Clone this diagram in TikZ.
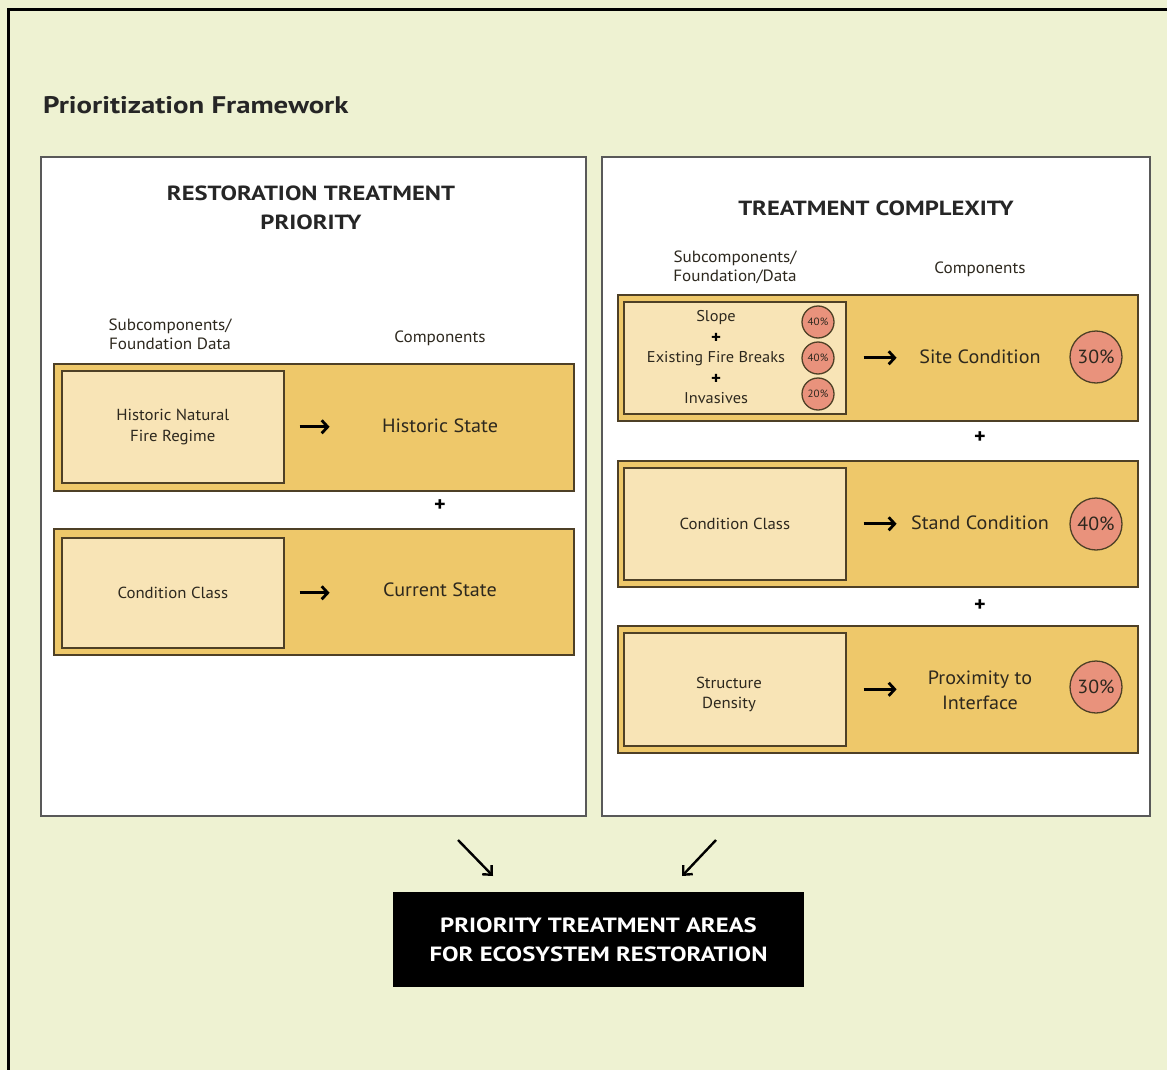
\documentclass[tikz,border=0pt]{standalone}
\usepackage{fontspec}
\setmainfont{PT Sans}[FakeStretch=1.05]
\newfontfamily\hb{PT Sans}[FakeStretch=1.2]
\usetikzlibrary{arrows.meta}
\definecolor{bg}{RGB}{238,242,210}
\definecolor{orng}{RGB}{238,200,106}
\definecolor{lite}{RGB}{248,228,182}
\definecolor{pinkc}{RGB}{233,146,124}
\definecolor{edgec}{RGB}{78,64,38}
\definecolor{txt}{RGB}{45,40,30}
\begin{document}
\begin{tikzpicture}[x=1pt,y=-1pt,
  panel/.style={draw=black!65, line width=1.6pt, fill=white, anchor=north west, inner sep=0pt, minimum width=545pt, minimum height=659pt},
  obox/.style={draw=edgec, line width=1.6pt, fill=orng, anchor=north west, inner sep=0pt, minimum width=520pt},
  ibox/.style={draw=edgec, line width=1.6pt, fill=lite, anchor=north west, inner sep=0pt, minimum width=222pt, align=center, text=txt, font=\fontsize{16}{21}\selectfont},
  ptitle/.style={align=center, text=black!85, font=\hb\bfseries\fontsize{20.5}{29}\selectfont},
  small/.style={align=center, text=txt, font=\fontsize{16.3}{19}\selectfont},
  comp/.style={align=center, text=txt, font=\fontsize{19.2}{25}\selectfont},
  sub/.style={align=center, text=txt, font=\fontsize{15.6}{16}\selectfont, inner sep=0pt},
  plus/.style={text=black, font=\bfseries\fontsize{21}{21}\selectfont, inner sep=0pt},
  pct/.style={circle, draw=edgec, line width=1.3pt, fill=pinkc, inner sep=0pt, text=txt},
  arr/.style={line width=2.8pt, -{Straight Barb[length=6pt,width=13pt,line width=2.8pt]}},
  darr/.style={line width=2.4pt, -{Straight Barb[length=7pt,width=13pt,line width=2.4pt]}}
]
\useasboundingbox (0,0) rectangle (1167,1070);
\fill[bg] (0,0) rectangle (1167,1070);
\draw[line width=3pt] (8,1070) -- (8,9.5) -- (1167,9.5);

\node[anchor=west, text=black!85, font=\hb\bfseries\fontsize{24}{28}\selectfont, inner sep=0pt] (mt) at (43,105) {Prioritization Framework};

% panels
\node[panel] (lp) at (40,156) {};
\node[panel, minimum width=548pt] (rp) at (601,156) {};

% ---------- left panel
\node[ptitle] (lt) at (311,208) {RESTORATION TREATMENT\\PRIORITY};
\node[small] (lsub) at (170,334) {Subcomponents/\\Foundation Data};
\node[small] (lcomp) at (440,338) {Components};

\node[obox, minimum height=127pt] (ob1) at (53,363) {};
\node[ibox, minimum height=112pt] (ib1) at (61,370) {Historic Natural\\Fire Regime};
\node[comp] (c1) at (440,426) {Historic State};
\draw[arr] ([xshift=15pt]ib1.east) -- ([xshift=45pt]ib1.east);

\node[plus] (p1) at (440,506) {+};

\node[obox, minimum height=126pt] (ob2) at (53,528) {};
\node[ibox, minimum height=110pt] (ib2) at (61,537) {Condition Class};
\node[comp] (c2) at (440,590) {Current State};
\draw[arr] ([xshift=15pt]ib2.east) -- ([xshift=45pt]ib2.east);

% ---------- right panel
\node[ptitle] (rt) at (876,208) {TREATMENT COMPLEXITY};
\node[small] (rsub) at (735,267) {Subcomponents/\\Foundation/Data};
\node[small] (rcomp) at (980,269) {Components};

\node[obox, minimum height=126pt] (obA) at (617,294) {};
\node[ibox, minimum height=112pt] (ibA) at (623,301) {};
\node[sub] (s1) at (716,318) {Slope};
\node[plus, font=\bfseries\fontsize{18}{18}\selectfont] (sp1) at (716,338) {+};
\node[sub] (s2) at (716,359) {Existing Fire Breaks};
\node[plus, font=\bfseries\fontsize{18}{18}\selectfont] (sp2) at (716,379) {+};
\node[sub] (s3) at (716,398) {Invasives};
\node[pct, minimum size=32pt, font=\fontsize{10.5}{10}\selectfont] (k1) at (818,322) {40\%};
\node[pct, minimum size=32pt, font=\fontsize{10.5}{10}\selectfont] (k2) at (818,358) {40\%};
\node[pct, minimum size=32pt, font=\fontsize{10.5}{10}\selectfont] (k3) at (818,394) {20\%};
\node[comp] (cA) at (980,357) {Site Condition};
\node[pct, minimum size=52pt, font=\fontsize{19}{19}\selectfont] (kA) at (1096,357) {30\%};
\draw[arr] ([xshift=17pt]ibA.east) -- ([xshift=50pt]ibA.east);

\node[plus] (p2) at (980,438) {+};

\node[obox, minimum height=126pt] (obB) at (617,460) {};
\node[ibox, minimum height=112pt] (ibB) at (623,467) {Condition Class};
\node[comp] (cB) at (980,523) {Stand Condition};
\node[pct, minimum size=52pt, font=\fontsize{19}{19}\selectfont] (kB) at (1096,524) {40\%};
\draw[arr] ([xshift=17pt]ibB.east) -- ([xshift=50pt]ibB.east);

\node[plus] (p3) at (980,606) {+};

\node[obox, minimum height=127pt] (obC) at (617,625) {};
\node[ibox, minimum height=113pt] (ibC) at (623,632) {};
\node[small, font=\fontsize{16}{20}\selectfont] (ibCt) at (729,694) {Structure\\Density};
\node[comp] (cC) at (980,690) {Proximity to\\Interface};
\node[pct, minimum size=52pt, font=\fontsize{19}{19}\selectfont] (kC) at (1096,687) {30\%};
\draw[arr] ([xshift=17pt]ibC.east) -- ([xshift=50pt]ibC.east);

% ---------- bottom
\node[fill=black, minimum width=411pt, minimum height=95pt, inner sep=0pt, align=center, text=white, font=\hb\bfseries\fontsize{20.6}{29}\selectfont] (res) at (598.5,939.5) {PRIORITY TREATMENT AREAS\\FOR ECOSYSTEM RESTORATION};
\coordinate (la) at (458,840);
\coordinate (lb) at (493,876);
\coordinate (ra) at (716,840);
\coordinate (rb) at (682,876);
\draw[darr] (la) -- (lb);
\draw[darr] (ra) -- (rb);
\end{tikzpicture}
\end{document}
